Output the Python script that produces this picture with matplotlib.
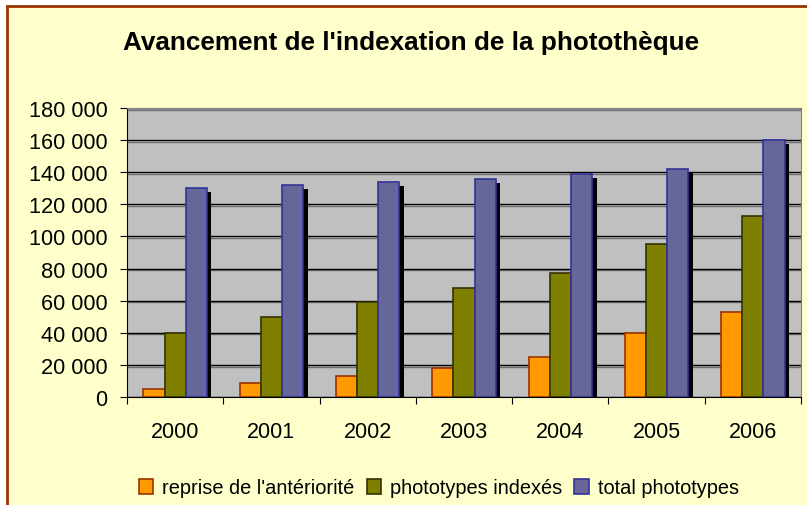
import numpy as np
import matplotlib as mpl
mpl.use('Agg')
import matplotlib.pyplot as plt
import matplotlib.patheffects as pe
from matplotlib.patches import Rectangle, Patch
from matplotlib.ticker import FuncFormatter, FixedLocator

plt.rcParams['font.family'] = ['Liberation Sans', 'DejaVu Sans']

years = ['2000', '2001', '2002', '2003', '2004', '2005', '2006']
reprise = [5000, 9000, 13000, 18000, 25000, 40000, 53000]
indexes = [40000, 50000, 59000, 68000, 77000, 95000, 113000]
total = [130000, 132000, 134000, 136000, 139000, 142000, 160000]

series_names = ["reprise de l'antériorité", "phototypes indexés", "total phototypes"]
face_colors = ['#FF9900', '#808000', '#666699']
edge_colors = ['#993300', '#333300', '#333399']

W, H = 807, 506
fig = plt.figure(figsize=(W / 100, H / 100), dpi=100, facecolor='white')

# outer chart area (yellow with brown border, cut off right/bottom)
fig.patches.append(Rectangle((7 / W, -0.05), 1.1, 1 - 7 / H + 0.05,
                             transform=fig.transFigure, facecolor='#FFFFCC',
                             edgecolor='#993300', linewidth=2, zorder=-1))

ax = fig.add_axes([127 / W, 1 - 398 / H, (801 - 127) / W, (398 - 109) / H], zorder=1)
ax.set_facecolor('#C0C0C0')

x = np.arange(len(years))
bw = 0.22
for i, vals in enumerate([reprise, indexes, total]):
    bars = ax.bar(x + (i - 1) * bw, vals, bw, color=face_colors[i],
                  edgecolor=edge_colors[i], linewidth=1.2, zorder=3)
    if i == 2:
        for b in bars:
            b.set_path_effects([pe.SimplePatchShadow(offset=(3.2, -3), shadow_rgbFace='black', alpha=1),
                                pe.Normal()])

ax.set_xlim(-0.5, len(years) - 0.5)
ax.set_ylim(0, 180000)
ax.set_yticks(np.arange(0, 180001, 20000))
ax.yaxis.set_major_formatter(FuncFormatter(lambda v, p: f"{int(v):,}".replace(',', ' ')))
ax.yaxis.grid(True, color='black', linewidth=1,
              path_effects=[pe.SimpleLineShadow(offset=(0, -1.2), shadow_color='#707070', alpha=1), pe.Normal()])
ax.set_axisbelow(True)

ax.xaxis.set_major_locator(FixedLocator(np.arange(-0.5, len(years), 1)))
ax.xaxis.set_major_formatter(FuncFormatter(lambda v, p: ''))
ax.xaxis.set_minor_locator(FixedLocator(x))
ax.set_xticklabels(years, minor=True)
ax.tick_params(axis='x', which='major', length=5, direction='out', color='black')
ax.tick_params(axis='x', which='minor', length=0, pad=17, labelsize=15.5)
ax.tick_params(axis='y', length=5, direction='out', pad=9, labelsize=15.7)

for s in ['top', 'right']:
    ax.spines[s].set_color('#808080')
for s in ['left', 'bottom']:
    ax.spines[s].set_color('black')

fig.text(411 / W, 1 - 43 / H, "Avancement de l'indexation de la photothèque",
         ha='center', va='center', fontsize=18.8, fontweight='bold')

handles = [Patch(facecolor=fc, edgecolor=ec, linewidth=1.2) for fc, ec in zip(face_colors, edge_colors)]
fig.legend(handles, series_names, loc='center', bbox_to_anchor=(439 / W, 1 - 489 / H), ncol=3,
           frameon=False, fontsize=14.4, handlelength=0.72, handleheight=0.72, handletextpad=0.45,
           columnspacing=0.6, borderaxespad=0)

fig.savefig('out.png', dpi=100, facecolor=fig.get_facecolor())
